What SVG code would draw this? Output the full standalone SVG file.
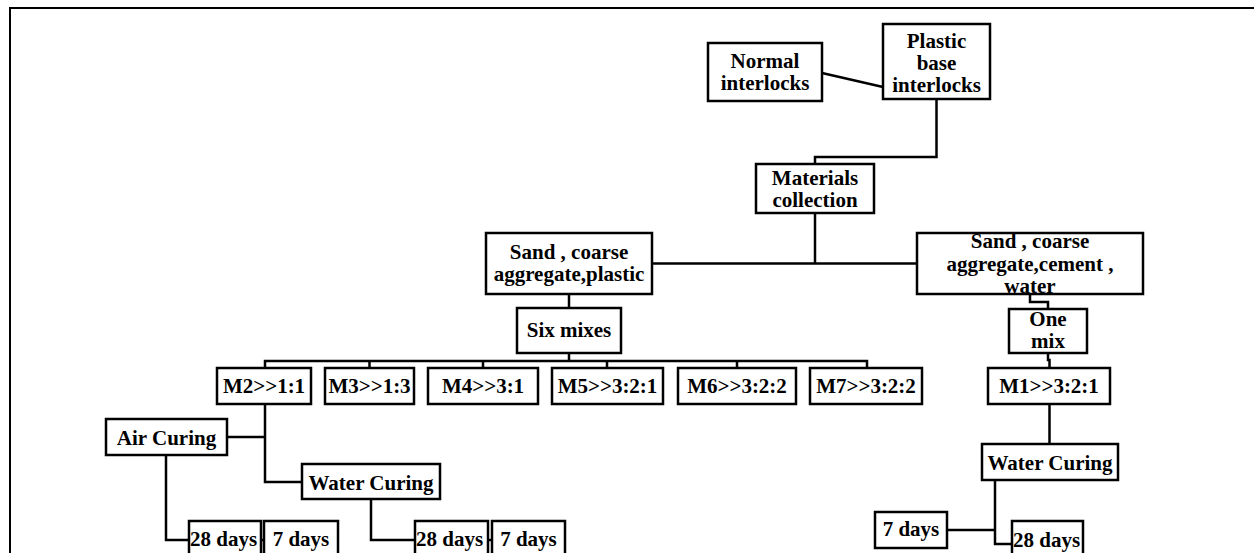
<svg xmlns="http://www.w3.org/2000/svg" width="1254" height="553" viewBox="0 0 1254 553">
<style>
.b{fill:#fff;stroke:#000;stroke-width:2.5}
.t{font-family:"Liberation Serif","Times New Roman",serif;font-weight:bold;font-size:21px;text-anchor:middle;fill:#000}
.s{text-anchor:start}
.c{fill:none;stroke:#000;stroke-width:2.5}
</style>
<rect width="1254" height="553" fill="#fff"/>
<path d="M10,553 V8 H1254" fill="none" stroke="#000" stroke-width="2"/>
<g id="connectors" class="c">
<path d="M822,73 L883,87"/>
<path d="M936.5,99 V157 H815 V164"/>
<path d="M815,213 V263.5"/>
<path d="M652,263.5 H917"/>
<path d="M569,294 V308"/>
<path d="M1030,294 V302 H1048 V309"/>
<path d="M569,353 V361"/>
<path d="M265,368 V361 H867 V368"/>
<path d="M369.5,361 V368"/>
<path d="M483,361 V368"/>
<path d="M607,361 V368"/>
<path d="M737,361 V368"/>
<path d="M1048,353 V360 H1049.5 V368"/>
<path d="M265,404 V482 H302"/>
<path d="M227,437 H265"/>
<path d="M166,455 V540 H189"/>
<path d="M371,499 V540 H415"/>
<path d="M261,540 H264"/>
<path d="M488,540 H492"/>
<path d="M1049.5,404 V444"/>
<path d="M995,480 V544 H1012"/>
<path d="M947,530 H995"/>
</g>
<g id="n-normal"><rect class="b" x="708" y="43" width="114" height="58"/><text class="t" x="765" y="68">Normal</text><text class="t" x="765" y="90">interlocks</text></g>
<g id="n-plastic"><rect class="b" x="883" y="24" width="107" height="75"/><text class="t" x="936.5" y="48">Plastic</text><text class="t" x="936.5" y="70">base</text><text class="t" x="936.5" y="92">interlocks</text></g>
<g id="n-materials"><rect class="b" x="756" y="164" width="118" height="49"/><text class="t" x="815" y="185">Materials</text><text class="t" x="815" y="207">collection</text></g>
<g id="n-sand-plastic"><rect class="b" x="486" y="233" width="166" height="61"/><text class="t" x="569" y="259">Sand , coarse</text><text class="t" x="569" y="281">aggregate,plastic</text></g>
<g id="n-sand-cement"><rect class="b" x="917" y="233" width="226" height="61"/><text class="t" x="1030" y="248">Sand , coarse</text><text class="t" x="1030" y="270.5">aggregate,cement ,</text><text class="t" x="1030" y="293">water</text></g>
<g id="n-six"><rect class="b" x="517" y="308" width="104" height="45"/><text class="t" x="569" y="337">Six mixes</text></g>
<g id="n-one"><rect class="b" x="1009" y="309" width="78" height="44"/><text class="t" x="1048" y="326">One</text><text class="t" x="1048" y="348">mix</text></g>
<g id="n-m2"><rect class="b" x="217" y="368" width="94" height="36"/><text class="t" x="264" y="393">M2&gt;&gt;1:1</text></g>
<g id="n-m3"><rect class="b" x="325" y="368" width="89" height="36"/><text class="t" x="369.5" y="393">M3&gt;&gt;1:3</text></g>
<g id="n-m4"><rect class="b" x="428" y="368" width="110" height="36"/><text class="t" x="483" y="393">M4&gt;&gt;3:1</text></g>
<g id="n-m5"><rect class="b" x="552" y="368" width="111" height="36"/><text class="t" x="607.5" y="393">M5&gt;&gt;3:2:1</text></g>
<g id="n-m6"><rect class="b" x="678" y="368" width="118" height="36"/><text class="t" x="737" y="393">M6&gt;&gt;3:2:2</text></g>
<g id="n-m7"><rect class="b" x="810" y="368" width="112" height="36"/><text class="t" x="866" y="393">M7&gt;&gt;3:2:2</text></g>
<g id="n-m1"><rect class="b" x="988" y="368" width="122" height="36"/><text class="t" x="1049" y="393">M1&gt;&gt;3:2:1</text></g>
<g id="n-air"><rect class="b" x="106" y="419" width="121" height="36"/><text class="t" x="166.5" y="445">Air Curing</text></g>
<g id="n-water-l"><rect class="b" x="302" y="464" width="138" height="35"/><text class="t" x="371" y="490">Water Curing</text></g>
<g id="n-water-r"><rect class="b" x="982" y="444" width="136" height="36"/><text class="t" x="1050" y="470">Water Curing</text></g>
<g id="n-air-28"><rect class="b" x="189" y="521" width="72" height="40"/><text class="t s" x="190" y="546">28 days</text></g>
<g id="n-air-7"><rect class="b" x="264" y="521" width="74" height="40"/><text class="t" x="301" y="546">7 days</text></g>
<g id="n-wl-28"><rect class="b" x="415" y="521" width="73" height="40"/><text class="t s" x="416" y="546">28 days</text></g>
<g id="n-wl-7"><rect class="b" x="492" y="521" width="73" height="40"/><text class="t" x="528.5" y="546">7 days</text></g>
<g id="n-wr-7"><rect class="b" x="875" y="512" width="72" height="36"/><text class="t" x="911" y="536">7 days</text></g>
<g id="n-wr-28"><rect class="b" x="1012" y="521" width="71" height="40"/><text class="t s" x="1013" y="547">28 days</text></g>
</svg>
